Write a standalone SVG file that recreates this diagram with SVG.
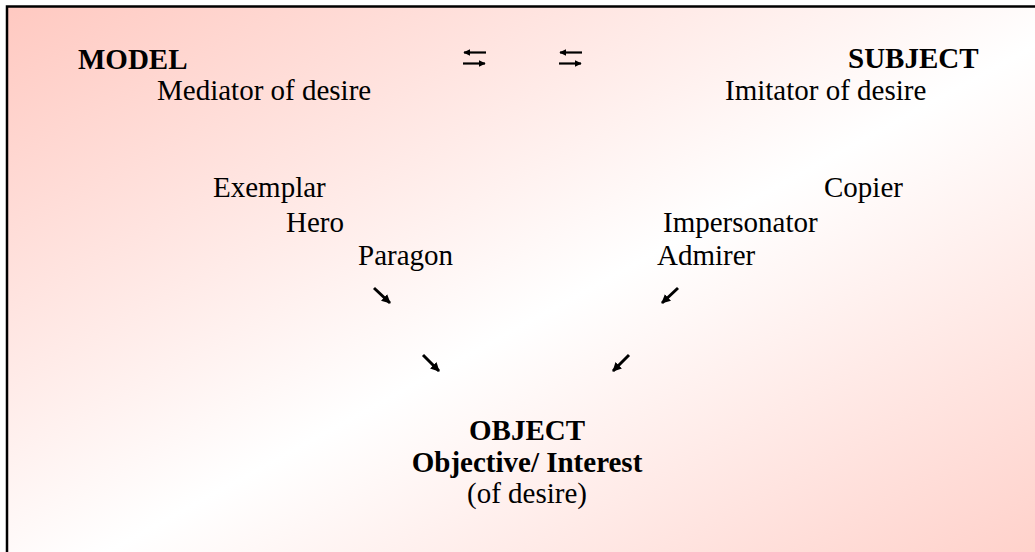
<svg xmlns="http://www.w3.org/2000/svg" width="1035" height="552" viewBox="0 0 1035 552">
  <style>
    text { font-family: "Liberation Serif", "Times New Roman", serif; font-size: 29px; fill: #000; }
    .b { font-weight: bold; }
    .c { text-anchor: middle; }
    .arr { stroke: #000; fill: none; }
    .dbl { stroke-width: 2.2; }
    .diag { stroke-width: 3; }
  </style>
  <defs>
    <linearGradient id="bg" x1="0" y1="0" x2="1" y2="1">
      <stop offset="0" stop-color="#ffc9c1"/>
      <stop offset="0.5" stop-color="#ffffff"/>
      <stop offset="1" stop-color="#ffc9c1"/>
    </linearGradient>
    <marker id="headS" viewBox="0 0 10 10" refX="9" refY="5" markerWidth="7" markerHeight="8" markerUnits="userSpaceOnUse" orient="auto">
      <path d="M0,0 L10,5 L0,10 z" fill="#000"/>
    </marker>
    <marker id="headD" viewBox="0 0 10 10" refX="9" refY="5" markerWidth="9" markerHeight="10" markerUnits="userSpaceOnUse" orient="auto">
      <path d="M0,0 L10,5 L0,10 z" fill="#000"/>
    </marker>
  </defs>

  <rect x="7" y="6.5" width="1100" height="600" fill="url(#bg)" stroke="#000" stroke-width="2.5"/>

  <g id="model">
    <text class="b" x="78" y="69">MODEL</text>
    <text x="157" y="100">Mediator of desire</text>
    <text x="213" y="197">Exemplar</text>
    <text x="286" y="232">Hero</text>
    <text x="358" y="265">Paragon</text>
  </g>

  <g id="subject">
    <text class="b" x="848" y="68">SUBJECT</text>
    <text x="725" y="100">Imitator of desire</text>
    <text x="824" y="197">Copier</text>
    <text x="663" y="232">Impersonator</text>
    <text x="657" y="265">Admirer</text>
  </g>

  <g id="object">
    <text class="b c" x="527" y="440">OBJECT</text>
    <text class="b c" x="527" y="472">Objective/ Interest</text>
    <text class="c" x="527" y="503">(of desire)</text>
  </g>

  <g id="connectors">
    <path class="arr dbl" d="M486,52.5 L464,52.5" marker-end="url(#headS)"/>
    <path class="arr dbl" d="M463,63.5 L485,63.5" marker-end="url(#headS)"/>
    <path class="arr dbl" d="M582,52.5 L560,52.5" marker-end="url(#headS)"/>
    <path class="arr dbl" d="M559,63.5 L581,63.5" marker-end="url(#headS)"/>
    <path class="arr diag" d="M374,288 L390,303" marker-end="url(#headD)"/>
    <path class="arr diag" d="M678,288 L662,303" marker-end="url(#headD)"/>
    <path class="arr diag" d="M423,355 L439,371" marker-end="url(#headD)"/>
    <path class="arr diag" d="M629,355 L613,371" marker-end="url(#headD)"/>
  </g>
</svg>
